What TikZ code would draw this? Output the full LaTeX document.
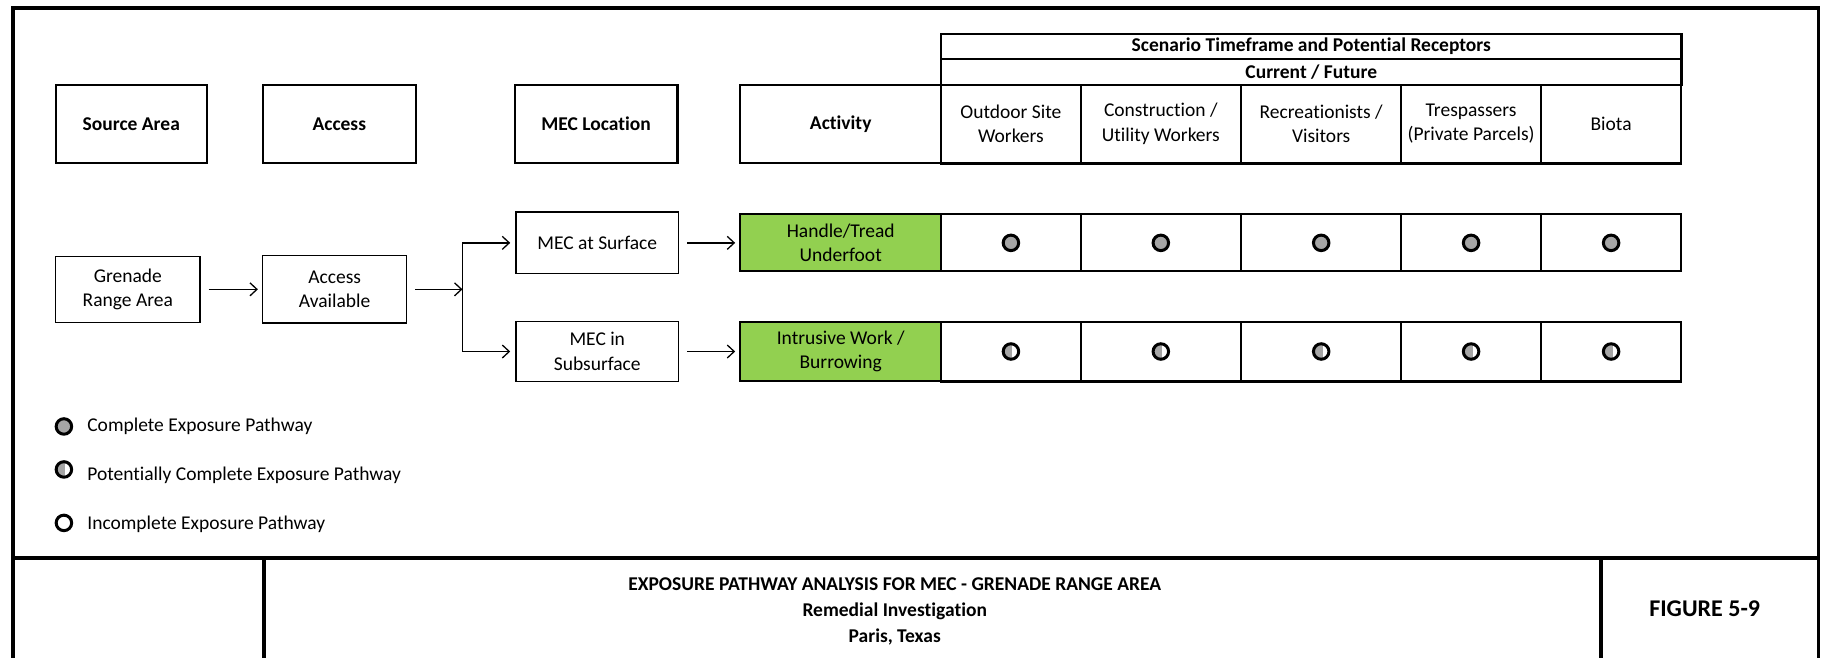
\documentclass[tikz,border=0pt]{standalone}
\usepackage{fontspec}
\setmainfont[Ligatures=NoCommon]{Carlito}
\usetikzlibrary{arrows.meta}
\definecolor{actgreen}{HTML}{92D050}
\definecolor{mkgray}{HTML}{A6A6A6}
\newcommand{\pwfont}{\fontsize{19.5}{24.4}\selectfont}

\begin{document}
\begin{tikzpicture}[
    x={(1.162pt,0pt)},
    y={(0pt,-1.162pt)},
    wh/.style 2 args={minimum width=#1*1.162pt, minimum height=#2*1.162pt},
    headbox/.style={draw, line width=2.2pt, inner sep=0pt, align=center, font=\pwfont\bfseries},
    recbox/.style={draw, line width=2pt, inner sep=0pt, align=center, font=\pwfont},
    flowbox/.style={draw, line width=1.4pt, inner sep=0pt, align=center, font=\pwfont},
    actbox/.style={flowbox, fill=actgreen, line width=2pt},
    cellbox/.style={draw, line width=2pt, inner sep=0pt},
    flow/.style={line width=1.3pt, -{Straight Barb[length=7pt,width=13pt]}},
    frame/.style={line width=3.5pt},
    pwmark/.style={circle, draw, line width=3pt, inner sep=0pt, minimum size=15.5pt},
    fullpw/.style={pwmark, fill=mkgray},
    partpw/.style={pwmark, fill=white, path picture={
        \fill[mkgray] (path picture bounding box.south west)
            rectangle ([xshift=1.5pt]path picture bounding box.north);}},
    nopw/.style={pwmark, fill=white},
    legtext/.style={anchor=west, inner sep=0pt, font=\pwfont}
]

\useasboundingbox (0,0) rectangle (1568,566);

% =========================================================
% Frame and title block
% =========================================================

\draw[frame] (11,575) -- (11,7) -- (1565,7) -- (1565,575);
\draw[frame] (11,480) -- (1565,480);
\draw[frame] (227,480) -- (227,575);
\draw[frame] (1378,480) -- (1378,575);

\node[align=center, font={\fontsize{19.5}{26}\selectfont\bfseries}] (ttl) at (770,526)
    {EXPOSURE PATHWAY ANALYSIS FOR MEC - GRENADE RANGE AREA\\Remedial Investigation\\Paris, Texas};
\node[font={\fontsize{24}{28}\selectfont\bfseries}] (fig) at (1467,524) {FIGURE 5-9};

% =========================================================
% Column headers
% =========================================================

\node[headbox, wh={130}{67}] (src)  at (113,106.5)   {Source Area};
\node[headbox, wh={132}{67}] (acc)  at (292,106.5)   {Access};
\node[headbox, wh={140}{67}] (loc)  at (513,106.5)   {MEC Location};
\node[headbox, wh={173}{67}] (actv) at (723.5,106.5) {Activity};

\node[headbox, wh={637}{22}] (scen) at (1128.5,40) {Scenario Timeframe and Potential Receptors};
\node[headbox, wh={637}{22}] (time) at (1128.5,62) {Current / Future};

\node[recbox, wh={120}{67}] (rc1) at (870,106.5)    {Outdoor Site\\Workers};
\node[recbox, wh={138}{67}] (rc2) at (999,106.5)    {Construction /\\Utility Workers};
\node[recbox, wh={138}{67}] (rc3) at (1137,106.5)   {Recreationists /\\Visitors};
\node[recbox, wh={120}{67}] (rc4) at (1266,106.5)   {Trespassers\\(Private Parcels)};
\node[recbox, wh={121}{67}] (rc5) at (1386.5,106.5) {Biota};

\draw[line width=3pt] (rc1.south west) -- (rc5.south east);

% =========================================================
% Pathway flow
% =========================================================

\node[flowbox, wh={124}{57}] (gren)  at (110,249)   {Grenade\\Range Area};
\node[flowbox, wh={124}{58}] (avail) at (288,249)   {Access\\Available};
\node[flowbox, wh={140}{53}] (surf)  at (514,209)   {MEC at Surface};
\node[flowbox, wh={140}{52}] (subs)  at (514,302.5) {MEC in\\Subsurface};
\coordinate (fork) at (398,249);

\node[actbox, wh={173}{49}] (hand) at (723.5,209)   {Handle/Tread\\Underfoot};
\node[actbox, wh={173}{50}] (intr) at (723.5,302.5) {Intrusive Work /\\Burrowing};

\draw[flow, shorten <=8pt, shorten >=4pt] (gren) -- (avail);
\draw[flow, shorten <=8pt] (avail) -- (fork);
\draw[flow, shorten >=5pt] (fork) |- (surf);
\draw[flow, shorten >=5pt] (fork) |- (subs);
\draw[flow, shorten <=8pt, shorten >=4pt] (surf) -- (hand);
\draw[flow, shorten <=8pt, shorten >=4pt] (subs) -- (intr);

% =========================================================
% Receptor cells
% =========================================================

\foreach \cx/\cw [count=\i] in {870/120, 999/138, 1137/138, 1266/120, 1386.5/121} {
    \node[cellbox, wh={\cw}{49}] (a\i) at (\cx,209)   {};
    \node[cellbox, wh={\cw}{50}] (b\i) at (\cx,302.5) {};
    \node[fullpw] (fa\i) at (a\i) {};
    \node[partpw] (pb\i) at (b\i) {};
}

\draw[line width=3pt] (b1.south west) -- (b5.south east);

% =========================================================
% Legend
% =========================================================

\node[fullpw] (lg1) at (55,367) {};
\node[legtext] (lt1) at (75,367) {Complete Exposure Pathway};
\node[partpw] (lg2) at (55,404) {};
\node[legtext] (lt2) at (75,409) {Potentially Complete Exposure Pathway};
\node[nopw]   (lg3) at (55,450) {};
\node[legtext] (lt3) at (75,451) {Incomplete Exposure Pathway};

\end{tikzpicture}
\end{document}
